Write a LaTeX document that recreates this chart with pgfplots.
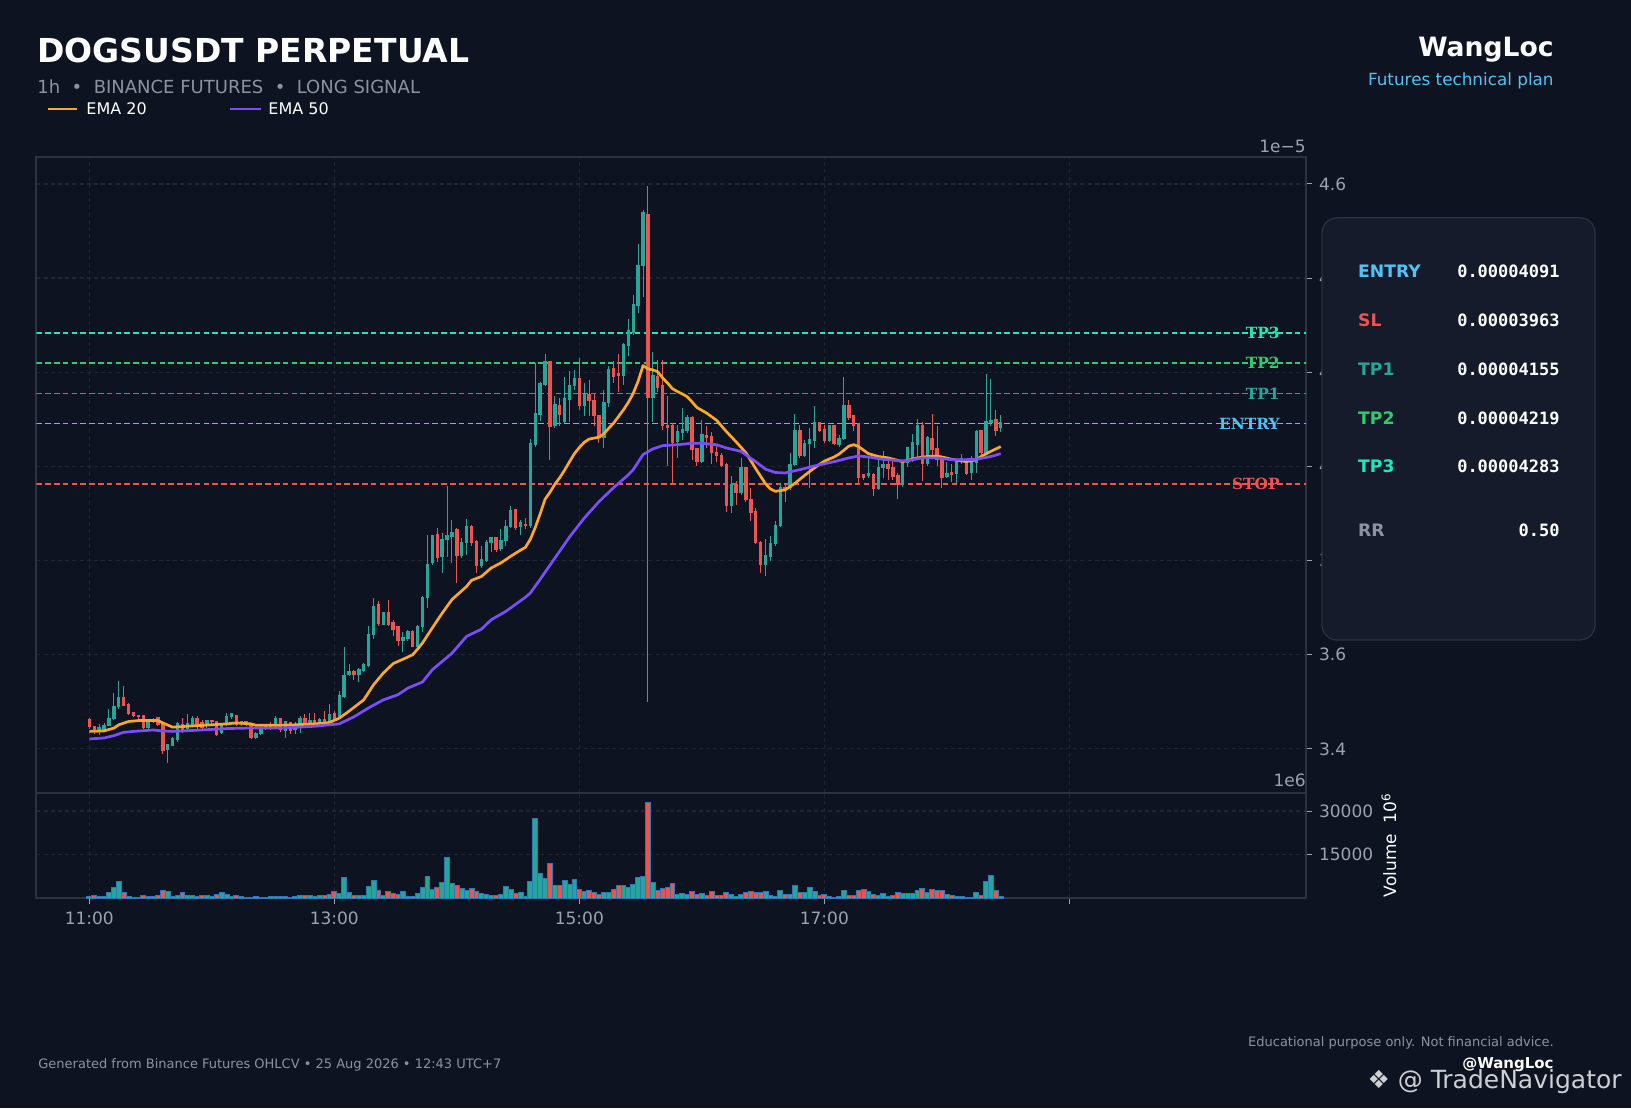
\documentclass[border=0pt]{standalone}
\usepackage{pgfplots}
\pgfplotsset{compat=1.18}
\usepackage{pgfplotstable}
\usepackage{fontspec}
\setmainfont{DejaVu Sans}
\newfontfamily\monof{DejaVu Sans Mono}
\newfontfamily\serf{DejaVu Serif}
\definecolor{bg}{HTML}{0D1321}
\definecolor{framec}{HTML}{2B3242}
\definecolor{gridc}{HTML}{1E2635}
\definecolor{tickgray}{HTML}{9CA3AF}
\definecolor{upc}{HTML}{26A69A}
\definecolor{dnc}{HTML}{EF5350}
\definecolor{voledge}{HTML}{2A7AB8}
\definecolor{ema20}{HTML}{FFA726}
\definecolor{ema50}{HTML}{7C4DFF}
\definecolor{tp3c}{HTML}{1DE9B6}
\definecolor{tp2c}{HTML}{2ECC71}
\definecolor{tp1c}{HTML}{26A69A}
\definecolor{entryc}{HTML}{4FC3F7}
\definecolor{stopc}{HTML}{EF5350}
\definecolor{subgray}{HTML}{8B93A1}
\definecolor{panelc}{HTML}{151B2A}
\definecolor{panelb}{HTML}{2A3141}

\pgfplotstableread{
i o h l c v
0 3.462 3.465 3.442 3.446 680
1 3.446 3.449 3.432 3.437 1000
2 3.436 3.453 3.430 3.444 680
3 3.441 3.455 3.437 3.449 680
4 3.449 3.484 3.448 3.463 2050
5 3.463 3.518 3.462 3.489 3750
6 3.488 3.545 3.484 3.508 5800
7 3.508 3.534 3.490 3.492 2050
8 3.494 3.497 3.471 3.474 680
9 3.476 3.478 3.467 3.469 340
10 3.470 3.472 3.464 3.467 340
11 3.469 3.470 3.442 3.444 1000
12 3.444 3.463 3.440 3.456 680
13 3.458 3.466 3.455 3.462 680
14 3.465 3.467 3.448 3.451 1000
15 3.451 3.455 3.389 3.396 2730
16 3.397 3.410 3.370 3.409 2400
17 3.407 3.426 3.405 3.421 680
18 3.419 3.456 3.414 3.453 1000
19 3.451 3.465 3.433 3.438 2050
20 3.442 3.475 3.439 3.453 1000
21 3.451 3.470 3.447 3.464 1000
22 3.464 3.469 3.441 3.448 680
23 3.455 3.462 3.440 3.444 1000
24 3.448 3.462 3.445 3.458 1000
25 3.458 3.462 3.451 3.457 680
26 3.457 3.458 3.428 3.430 1360
27 3.433 3.452 3.431 3.448 2050
28 3.451 3.476 3.449 3.467 1360
29 3.468 3.475 3.464 3.473 680
30 3.470 3.472 3.448 3.451 1000
31 3.452 3.460 3.449 3.456 680
32 3.456 3.458 3.449 3.451 340
33 3.453 3.455 3.421 3.424 340
34 3.423 3.436 3.420 3.432 680
35 3.432 3.448 3.429 3.444 340
36 3.443 3.453 3.441 3.450 340
37 3.450 3.456 3.440 3.446 680
38 3.448 3.469 3.444 3.463 680
39 3.463 3.463 3.435 3.440 680
40 3.438 3.460 3.423 3.456 680
41 3.455 3.458 3.432 3.437 340
42 3.440 3.458 3.432 3.449 680
43 3.448 3.469 3.434 3.464 1000
44 3.464 3.474 3.451 3.455 1000
45 3.455 3.477 3.453 3.460 1000
46 3.460 3.476 3.451 3.453 680
47 3.455 3.466 3.452 3.462 1000
48 3.462 3.481 3.448 3.451 1000
49 3.458 3.495 3.455 3.472 1360
50 3.474 3.481 3.461 3.463 2400
51 3.466 3.522 3.464 3.513 1700
52 3.511 3.616 3.508 3.555 7160
53 3.556 3.581 3.554 3.563 2050
54 3.563 3.568 3.547 3.556 1000
55 3.556 3.571 3.541 3.568 1000
56 3.565 3.582 3.563 3.579 1000
57 3.575 3.660 3.573 3.642 4100
58 3.642 3.720 3.634 3.702 6140
59 3.705 3.713 3.661 3.666 2730
60 3.664 3.690 3.662 3.688 1000
61 3.688 3.717 3.661 3.664 2400
62 3.668 3.674 3.639 3.653 1700
63 3.658 3.660 3.619 3.628 1360
64 3.628 3.649 3.605 3.635 2400
65 3.634 3.653 3.630 3.649 680
66 3.649 3.652 3.616 3.617 680
67 3.617 3.664 3.609 3.659 1700
68 3.659 3.724 3.649 3.720 3750
69 3.720 3.855 3.699 3.791 7500
70 3.795 3.855 3.791 3.853 3070
71 3.855 3.869 3.796 3.805 3750
72 3.808 3.858 3.773 3.844 5460
73 3.843 3.959 3.807 3.853 14000
74 3.851 3.887 3.795 3.858 5100
75 3.864 3.869 3.752 3.809 4430
76 3.809 3.848 3.805 3.837 3400
77 3.837 3.888 3.812 3.871 2730
78 3.871 3.876 3.830 3.838 3400
79 3.840 3.844 3.773 3.789 2400
80 3.789 3.830 3.785 3.800 1700
81 3.800 3.844 3.797 3.838 1360
82 3.838 3.851 3.819 3.848 1000
83 3.848 3.851 3.819 3.823 1000
84 3.824 3.867 3.821 3.842 1360
85 3.842 3.887 3.830 3.871 4100
86 3.871 3.915 3.869 3.906 3070
87 3.908 3.909 3.865 3.869 1700
88 3.871 3.887 3.855 3.879 2050
89 3.876 3.890 3.868 3.874 680
90 3.874 4.058 3.870 4.048 5800
91 4.046 4.219 4.041 4.111 27300
92 4.110 4.180 4.096 4.175 8530
93 4.173 4.239 4.170 4.221 6820
94 4.221 4.221 4.014 4.083 11940
95 4.085 4.149 4.081 4.131 4320
96 4.129 4.145 4.085 4.110 4320
97 4.095 4.190 4.092 4.142 6140
98 4.142 4.202 4.095 4.171 4775
99 4.170 4.205 4.163 4.185 6480
100 4.185 4.231 4.120 4.129 3070
101 4.129 4.177 4.106 4.154 2390
102 4.152 4.183 4.107 4.139 2730
103 4.138 4.154 4.085 4.106 2050
104 4.107 4.107 4.050 4.060 1360
105 4.060 4.163 4.040 4.134 2050
106 4.134 4.214 4.127 4.205 2050
107 4.207 4.223 4.177 4.190 3070
108 4.197 4.238 4.158 4.193 4320
109 4.193 4.263 4.173 4.258 4320
110 4.255 4.313 4.234 4.287 3750
111 4.283 4.364 4.280 4.343 4775
112 4.340 4.473 4.326 4.425 7160
113 4.425 4.545 4.360 4.538 7500
114 4.534 4.596 3.500 4.145 33090
115 4.146 4.242 4.095 4.192 5460
116 4.190 4.225 4.159 4.166 2730
117 4.171 4.225 4.078 4.085 3410
118 4.086 4.149 4.000 4.081 3750
119 4.085 4.092 3.963 4.050 5120
120 4.051 4.088 4.018 4.072 1360
121 4.071 4.124 4.057 4.078 1700
122 4.076 4.110 4.070 4.103 1360
123 4.102 4.106 4.014 4.035 2390
124 4.037 4.040 4.001 4.010 1360
125 4.010 4.099 4.007 4.067 1700
126 4.065 4.086 4.039 4.061 1020
127 4.062 4.074 4.006 4.028 2390
128 4.028 4.046 4.010 4.021 1020
129 4.022 4.029 3.998 4.001 1020
130 4.003 4.008 3.904 3.915 2050
131 3.915 3.980 3.901 3.961 1360
132 3.961 3.968 3.917 3.943 680
133 3.943 4.017 3.940 3.996 1360
134 3.996 3.999 3.925 3.929 2050
135 3.929 3.954 3.883 3.902 2390
136 3.902 3.911 3.836 3.837 2050
137 3.837 3.841 3.773 3.791 2050
138 3.791 3.845 3.768 3.809 2390
139 3.808 3.853 3.798 3.835 1020
140 3.835 3.883 3.831 3.874 680
141 3.874 3.964 3.872 3.954 2730
142 3.954 3.961 3.925 3.950 1360
143 3.954 4.028 3.950 4.003 1360
144 4.003 4.112 4.001 4.074 4430
145 4.074 4.088 4.018 4.022 2050
146 4.022 4.057 4.020 4.048 2050
147 4.048 4.081 3.954 4.055 3750
148 4.053 4.129 4.039 4.093 2390
149 4.092 4.095 4.074 4.076 1020
150 4.078 4.088 4.049 4.053 1360
151 4.053 4.088 4.051 4.086 680
152 4.086 4.088 4.046 4.048 340
153 4.046 4.067 4.041 4.058 680
154 4.058 4.190 4.056 4.129 2730
155 4.129 4.142 4.099 4.103 1020
156 4.106 4.110 4.076 4.086 1020
157 4.090 4.092 3.961 3.975 2730
158 3.982 3.984 3.970 3.975 3070
159 3.979 4.021 3.975 3.983 2390
160 3.982 3.986 3.937 3.952 1360
161 3.952 4.014 3.950 3.996 1020
162 3.996 4.032 3.975 4.003 1700
163 4.003 4.014 3.970 3.994 680
164 3.996 4.014 3.971 3.977 1020
165 3.980 3.986 3.930 3.961 2050
166 3.961 4.014 3.957 4.007 1700
167 4.007 4.041 3.998 4.039 1700
168 4.014 4.069 4.010 4.050 1700
169 4.046 4.100 4.014 4.086 2730
170 4.086 4.095 3.968 4.005 3410
171 4.005 4.064 4.001 4.060 2050
172 4.058 4.112 4.025 4.034 3070
173 4.037 4.085 4.000 4.013 2730
174 4.014 4.018 3.954 3.975 2730
175 3.978 4.010 3.975 3.983 1360
176 3.986 4.005 3.966 3.982 1020
177 3.984 4.014 3.964 4.010 680
178 4.010 4.026 4.006 4.015 680
179 4.010 4.015 3.982 3.984 340
180 3.985 4.021 3.972 4.010 340
181 4.007 4.078 3.986 4.072 2050
182 4.074 4.078 4.025 4.028 1020
183 4.028 4.197 4.025 4.095 5800
184 4.093 4.186 4.085 4.097 7850
185 4.099 4.120 4.065 4.076 2730
186 4.081 4.110 4.074 4.092 680
}\candles

\pgfplotstableread{
i e
0 3.437
3 3.438
5 3.444
6 3.451
8 3.458
10 3.460
14 3.460
15 3.455
17 3.446
20 3.448
25 3.451
28 3.453
30 3.455
33 3.453
34 3.450
38 3.450
42 3.451
46 3.453
49 3.456
51 3.465
53 3.480
56 3.504
58 3.536
60 3.561
62 3.581
65 3.595
66 3.600
67 3.612
68 3.625
70 3.657
72 3.688
74 3.717
77 3.745
78 3.758
80 3.766
82 3.784
84 3.795
86 3.809
88 3.822
89 3.828
90 3.845
91 3.870
92 3.899
93 3.930
94 3.945
95 3.962
96 3.976
97 3.992
98 4.010
99 4.027
100 4.040
101 4.051
102 4.058
104 4.062
105 4.069
106 4.081
107 4.092
109 4.120
110 4.136
111 4.155
112 4.181
113 4.214
114 4.207
115 4.205
116 4.201
117 4.188
118 4.177
119 4.165
120 4.159
121 4.154
122 4.148
123 4.137
124 4.125
126 4.113
128 4.098
130 4.074
132 4.052
134 4.029
136 3.995
138 3.963
139 3.952
140 3.947
142 3.950
144 3.964
146 3.981
148 3.997
150 4.011
152 4.020
153 4.026
155 4.043
156 4.046
157 4.042
159 4.027
161 4.021
163 4.018
166 4.010
169 4.018
171 4.021
173 4.022
174 4.020
176 4.015
179 4.010
181 4.014
182 4.021
184 4.032
186 4.042
}\emaA

\pgfplotstableread{
i e
0 3.421
3 3.423
5 3.428
7 3.435
9 3.437
13 3.440
15 3.438
17 3.437
21 3.439
28 3.443
32 3.444
39 3.444
46 3.448
51 3.453
54 3.468
57 3.487
60 3.504
63 3.515
65 3.529
68 3.542
70 3.568
74 3.603
77 3.639
80 3.654
82 3.674
85 3.692
89 3.722
90 3.731
92 3.760
95 3.805
98 3.850
101 3.890
104 3.925
107 3.955
110 3.982
111 3.993
113 4.025
115 4.037
117 4.044
120 4.046
123 4.049
125 4.049
128 4.046
130 4.039
133 4.032
135 4.017
136 4.010
138 3.994
140 3.987
142 3.986
145 3.993
148 4.001
152 4.010
155 4.018
157 4.022
159 4.020
162 4.015
165 4.012
167 4.012
170 4.018
173 4.018
176 4.014
178 4.014
181 4.015
184 4.021
186 4.027
}\emaB

\pgfplotsset{
  darkaxis/.style={
    scale only axis, width=634.8pt,
    xmin=10.568, xmax=20.932,
    axis background/.style={fill=bg},
    axis line style={draw=framec, line width=1pt},
    tick align=outside, major tick length=3pt,
    tick style={draw=tickgray, line width=0.5pt},
    ytick pos=right, xtick pos=bottom,
    grid=major,
    major grid style={draw=gridc, dash pattern=on 2pt off 1.6pt, line width=0.6pt},
    ticklabel style={font=\fontsize{8.5}{10}\selectfont, text=tickgray},
    xtick={11,13,15,17,19},
  },
  lvl/.style={line width=0.85pt, dash pattern=on 2.8pt off 1.6pt},
}

\begin{document}
\begin{tikzpicture}
\path[use as bounding box, fill=bg] (0,0) rectangle (815.5pt,-554pt);

% ---------- main price axis
\begin{axis}[darkaxis,
  at={(18.2pt,-396.3pt)}, anchor=south west, height=318pt,
  ymin=3.307, ymax=4.658,
  xticklabels={}, xtick style={draw=none},
  ytick={3.4,3.6,3.8,4.0,4.2,4.4,4.6},
  yticklabels={3.4,3.6,3.8,4.0,4.2,4.4,4.6},
  clip=true,
]
% level lines
\addplot[lvl, tp3c] coordinates {(10.568,4.283) (20.932,4.283)};
\addplot[lvl, tp2c] coordinates {(10.568,4.219) (20.932,4.219)};
\addplot[lvl, tp1c] coordinates {(10.568,4.155) (20.932,4.155)};
\addplot[lvl, entryc] coordinates {(10.568,4.091) (20.932,4.091)};
\addplot[lvl, stopc] coordinates {(10.568,3.963) (20.932,3.963)};
% wicks
\addplot[upc, line width=0.5pt, -, quiver={u=0, v=\thisrow{h}-\thisrow{l}},
  restrict expr to domain={\thisrow{c}-\thisrow{o}}{0:10}]
  table[x expr=11+\thisrow{i}/25, y=l] {\candles};
\addplot[dnc, line width=0.5pt, -, quiver={u=0, v=\thisrow{h}-\thisrow{l}},
  restrict expr to domain={\thisrow{c}-\thisrow{o}}{-10:-0.00001}]
  table[x expr=11+\thisrow{i}/25, y=l] {\candles};
% bodies
\addplot[upc, line width=1.7pt, -, quiver={u=0, v=\thisrow{c}-\thisrow{o}+0.0022},
  restrict expr to domain={\thisrow{c}-\thisrow{o}}{0:10}]
  table[x expr=11+\thisrow{i}/25, y=o] {\candles};
\addplot[dnc, line width=1.7pt, -, quiver={u=0, v=\thisrow{o}-\thisrow{c}+0.0022},
  restrict expr to domain={\thisrow{c}-\thisrow{o}}{-10:-0.00001}]
  table[x expr=11+\thisrow{i}/25, y=c] {\candles};
% EMAs
\addplot[ema20, line width=1.35pt, line join=round] table[x expr=11+\thisrow{i}/25, y=e] {\emaA};
\addplot[ema50, line width=1.35pt, line join=round] table[x expr=11+\thisrow{i}/25, y=e] {\emaB};
% level labels
\begin{scope}[every node/.style={anchor=east, inner sep=0pt, font=\serf\bfseries\fontsize{7.7}{8}\selectfont}]
\node[text=tp3c] at (axis cs:20.72,4.283) {TP3};
\node[text=tp2c] at (axis cs:20.72,4.219) {TP2};
\node[text=tp1c] at (axis cs:20.72,4.155) {TP1};
\node[text=entryc] at (axis cs:20.72,4.091) {ENTRY};
\node[text=stopc] at (axis cs:20.72,3.963) {STOP};
\end{scope}
\end{axis}

% ---------- volume axis
\begin{axis}[darkaxis,
  at={(18.2pt,-449.2pt)}, anchor=south west, height=52.9pt,
  ymin=0, ymax=36340,
  xticklabels={11:00,13:00,15:00,17:00,{}},
  ytick={15000,30000}, yticklabels={15000,30000},
  scaled y ticks=false,
]
\addplot[ybar, bar width=0.04, bar shift=0pt, fill=upc, draw=voledge, line width=0.45pt,
  restrict expr to domain={\thisrow{c}-\thisrow{o}}{0:10}]
  table[x expr=11+\thisrow{i}/25, y=v] {\candles};
\addplot[ybar, bar width=0.04, bar shift=0pt, fill=dnc, draw=voledge, line width=0.45pt,
  restrict expr to domain={\thisrow{c}-\thisrow{o}}{-10:-0.00001}]
  table[x expr=11+\thisrow{i}/25, y=v] {\candles};
\end{axis}

% offset labels and volume label
\node[anchor=east, inner sep=0pt, text=tickgray, font=\fontsize{8.5}{10}\selectfont] at (653pt,-73pt) {1e−5};
\node[anchor=east, inner sep=0pt, text=tickgray, font=\fontsize{8.5}{10}\selectfont] at (653pt,-390pt) {1e6};
\node[rotate=90, inner sep=0pt, text=white, font=\fontsize{8.5}{10}\selectfont] at (694.5pt,-422.5pt) {Volume\ \ 10\textsuperscript{6}};

% ---------- header
\node[anchor=base west, inner sep=0pt, text=white, font=\bfseries\fontsize{16.5}{19}\selectfont] at (18.5pt,-31pt) {DOGSUSDT PERPETUAL};
\node[anchor=base west, inner sep=0pt, text=subgray, font=\fontsize{9}{11}\selectfont] at (18.5pt,-46.5pt) {1h\ \ •\ \ BINANCE FUTURES\ \ •\ \ LONG SIGNAL};
\draw[ema20, line width=1.3pt] (24pt,-54.5pt) -- (38.5pt,-54.5pt);
\node[anchor=base west, inner sep=0pt, text=white, font=\fontsize{8}{10}\selectfont] at (43pt,-57.3pt) {EMA 20};
\draw[ema50, line width=1.3pt] (115pt,-54.5pt) -- (130.5pt,-54.5pt);
\node[anchor=base west, inner sep=0pt, text=white, font=\fontsize{8}{10}\selectfont] at (134pt,-57.3pt) {EMA 50};
\node[anchor=base east, inner sep=0pt, text=white, font=\bfseries\fontsize{13.3}{15}\selectfont] at (777pt,-28pt) {WangLoc};
\node[anchor=base east, inner sep=0pt, text=entryc, font=\fontsize{8.4}{10}\selectfont] at (777pt,-42.6pt) {Futures technical plan};

% ---------- panel
\draw[fill=panelc, draw=panelb, line width=0.6pt, rounded corners=7.5pt] (661pt,-108.9pt) rectangle (797.5pt,-320pt);
\begin{scope}[lab/.style={anchor=base west, inner sep=0pt, font=\bfseries\fontsize{8.6}{10}\selectfont},
  val/.style={anchor=base east, inner sep=0pt, text=white, font=\monof\bfseries\fontsize{8.5}{10}\selectfont}]
\node[lab, text=entryc] at (678.9pt,-138.8pt) {ENTRY};
\node[val] at (780pt,-138.8pt) {0.00004091};
\node[lab, text=stopc] at (678.9pt,-163.3pt) {SL};
\node[val] at (780pt,-163.3pt) {0.00003963};
\node[lab, text=tp1c] at (678.9pt,-187.7pt) {TP1};
\node[val] at (780pt,-187.7pt) {0.00004155};
\node[lab, text=tp2c] at (678.9pt,-212pt) {TP2};
\node[val] at (780pt,-212pt) {0.00004219};
\node[lab, text=tp3c] at (678.9pt,-236.2pt) {TP3};
\node[val] at (780pt,-236.2pt) {0.00004283};
\node[lab, text=subgray] at (678.9pt,-268.3pt) {RR};
\node[val] at (780pt,-268.3pt) {0.50};
\end{scope}

% ---------- footer
\node[anchor=base west, inner sep=0pt, text=subgray, font=\fontsize{6.5}{8}\selectfont] at (19pt,-534pt) {Generated from Binance Futures OHLCV • 25 Aug 2026 • 12:43 UTC+7};
\node[anchor=base east, inner sep=0pt, text=subgray, font=\fontsize{6.5}{8}\selectfont] at (777pt,-523pt) {Educational purpose only. Not financial advice.};
\node[anchor=base east, inner sep=0pt, text=white, font=\bfseries\fontsize{7.5}{9}\selectfont] at (777pt,-534pt) {@WangLoc};
\node[anchor=east, inner sep=0pt, text=white, opacity=0.8, font=\fontsize{12.5}{14}\selectfont] at (811pt,-541pt) {❖ @ TradeNavigator};
\end{tikzpicture}
\end{document}
